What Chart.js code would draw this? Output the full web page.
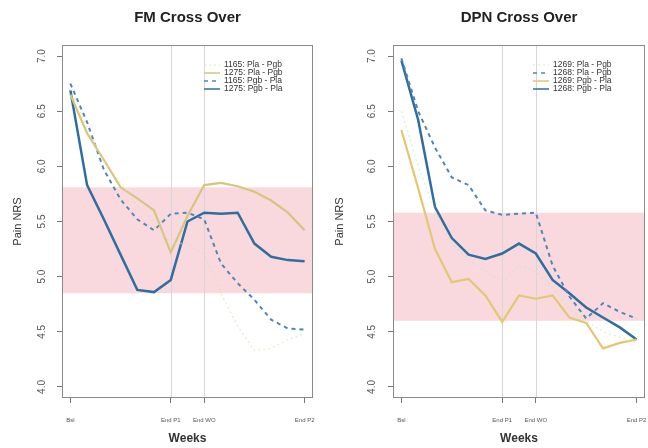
<!DOCTYPE html>
<html>
<head>
<meta charset="utf-8">
<script src="https://cdn.jsdelivr.net/npm/chart.js@4/dist/chart.umd.min.js"></script>
<style>
  html, body { margin: 0; padding: 0; background: #fff; }
  #wrap { position: relative; width: 648px; height: 448px; }
  .pane { position: absolute; top: 0; width: 324px; height: 448px; }
</style>
</head>
<body>
<div id="wrap">
  <div class="pane" style="left:0"><canvas id="fm" width="324" height="448"></canvas></div>
  <div class="pane" style="left:324px"><canvas id="dpn" width="324" height="448"></canvas></div>
</div>
<script>
// Study weeks (baseline, period 1, washout, period 2)
const weeks = [0, 1, 2, 3, 4, 5, 6, 7, 8, 9, 10, 11, 12, 13, 14];
const phaseWeeks = [0, 6, 8, 14];
const phaseLabels = ['Bsl', 'End P1', 'End WO', 'End P2'];
const yTicks = [4.0, 4.5, 5.0, 5.5, 6.0, 6.5, 7.0];

// FM cross-over: mean pain NRS by week
const fm1165PlaPgb = [6.70, 6.35, 6.05, 5.85, 5.65, 5.50, 5.30, 5.30, 5.20, 4.85, 4.55, 4.33, 4.35, 4.43, 4.48];
const fm1275PlaPgb = [6.65, 6.30, 6.06, 5.81, 5.71, 5.60, 5.22, 5.55, 5.83, 5.85, 5.82, 5.77, 5.69, 5.58, 5.42];
const fm1165PgbPla = [6.75, 6.40, 5.97, 5.70, 5.52, 5.42, 5.57, 5.58, 5.52, 5.12, 4.94, 4.79, 4.61, 4.53, 4.52];
const fm1275PgbPla = [6.69, 5.83, 5.52, 5.20, 4.88, 4.86, 4.97, 5.50, 5.58, 5.57, 5.58, 5.30, 5.18, 5.15, 5.14];
const fmBand = [4.85, 5.81];

// DPN cross-over: mean pain NRS by week
const dpn1269PlaPgb = [6.50, 6.00, 5.60, 5.30, 5.15, 5.05, 4.95, 5.10, 5.05, 4.90, 4.70, 4.60, 4.50, 4.45, 4.40];
const dpn1268PlaPgb = [6.98, 6.50, 6.17, 5.90, 5.83, 5.60, 5.56, 5.57, 5.58, 5.10, 4.82, 4.62, 4.76, 4.68, 4.62];
const dpn1269PgbPla = [6.33, 5.80, 5.25, 4.95, 4.98, 4.83, 4.59, 4.83, 4.80, 4.83, 4.63, 4.58, 4.35, 4.40, 4.43];
const dpn1268PgbPla = [6.96, 6.42, 5.63, 5.35, 5.20, 5.16, 5.21, 5.30, 5.21, 4.97, 4.85, 4.72, 4.63, 4.54, 4.43];
const dpnBand = [4.60, 5.58];

const pts = arr => arr.map((v, i) => ({ x: weeks[i], y: v }));

function series(label, values, color, width, dash) {
  return {
    label, data: pts(values), borderColor: color, borderWidth: width,
    borderDash: dash || [], pointRadius: 0, tension: 0, fill: false
  };
}

// Background band, phase lines, frame, labels and legend
const panelDecor = {
  id: 'panelDecor',
  beforeDatasetsDraw(chart, args, opts) {
    const { ctx, chartArea: a, scales: { x, y } } = chart;
    ctx.save();
    const yTop = y.getPixelForValue(opts.band[1]);
    const yBot = y.getPixelForValue(opts.band[0]);
    ctx.fillStyle = 'rgba(240,160,170,0.40)';
    ctx.fillRect(a.left, yTop, a.right - a.left, yBot - yTop);
    ctx.strokeStyle = '#d6d6d6';
    ctx.lineWidth = 1;
    [phaseWeeks[1], phaseWeeks[2]].forEach(w => {
      const px = Math.round(x.getPixelForValue(w)) + 0.5;
      ctx.beginPath(); ctx.moveTo(px, a.top); ctx.lineTo(px, a.bottom); ctx.stroke();
    });
    ctx.restore();
  },
  afterDraw(chart, args, opts) {
    const { ctx, chartArea: a, scales: { x, y } } = chart;
    ctx.save();
    // frame
    ctx.strokeStyle = '#8a8a8a';
    ctx.lineWidth = 1;
    ctx.strokeRect(a.left + 0.5, a.top + 0.5, a.right - a.left - 1, a.bottom - a.top - 1);

    // y tick labels, rotated
    ctx.fillStyle = '#555';
    ctx.font = '10px "Liberation Sans", Arial, sans-serif';
    ctx.textAlign = 'center';
    ctx.textBaseline = 'middle';
    yTicks.forEach(v => {
      ctx.save();
      ctx.translate(opts.yLabelX, y.getPixelForValue(v));
      ctx.rotate(-Math.PI / 2);
      ctx.fillText(v.toFixed(1), 0, 0);
      ctx.restore();
    });

    // x tick labels
    ctx.font = '6px "Liberation Sans", Arial, sans-serif';
    ctx.textBaseline = 'middle';
    phaseWeeks.forEach((w, i) => {
      ctx.fillText(phaseLabels[i], x.getPixelForValue(w), 420);
    });

    // axis titles
    const cx = (a.left + a.right) / 2;
    ctx.fillStyle = '#333';
    ctx.font = '600 12px "Liberation Sans", Arial, sans-serif';
    ctx.fillText('Weeks', cx, 439);
    ctx.save();
    ctx.translate(opts.yTitleX, (a.top + a.bottom) / 2);
    ctx.rotate(-Math.PI / 2);
    ctx.font = '11px "Liberation Sans", Arial, sans-serif';
    ctx.fillText('Pain NRS', 0, 0);
    ctx.restore();

    // panel title
    ctx.fillStyle = '#222';
    ctx.font = 'bold 15px "Liberation Sans", Arial, sans-serif';
    ctx.fillText(opts.title, cx, 18);

    // legend
    ctx.textAlign = 'left';
    ctx.font = '8.5px "Liberation Sans", Arial, sans-serif';
    chart.data.datasets.forEach((ds, i) => {
      const ly = a.top + 20 + i * 8;
      ctx.save();
      ctx.strokeStyle = ds.borderColor;
      ctx.lineWidth = 1.5;
      ctx.setLineDash(ds.borderDash);
      ctx.beginPath();
      ctx.moveTo(opts.legendX - 20, ly); ctx.lineTo(opts.legendX - 4, ly);
      ctx.stroke();
      ctx.restore();
      ctx.fillStyle = '#333';
      ctx.fillText(ds.label, opts.legendX, ly);
    });
    ctx.restore();
  }
};

function makePanel(id, datasets, decor, yWidth, rightPad) {
  return new Chart(document.getElementById(id), {
    type: 'line',
    data: { datasets },
    plugins: [panelDecor],
    options: {
      responsive: false,
      animation: false,
      devicePixelRatio: 1,
      layout: { padding: { left: 0, right: rightPad, top: 45, bottom: 0 } },
      plugins: { legend: { display: false }, tooltip: { enabled: false }, panelDecor: decor },
      scales: {
        x: {
          type: 'linear', min: -0.5, max: 14.5,
          afterBuildTicks: s => { s.ticks = phaseWeeks.map(v => ({ value: v })); },
          afterFit: s => { s.height = 50; },
          ticks: { display: false },
          grid: { drawOnChartArea: false, drawTicks: true, tickLength: 5, color: '#777' },
          border: { display: false }
        },
        y: {
          type: 'linear', min: 3.9, max: 7.1,
          afterBuildTicks: s => { s.ticks = yTicks.map(v => ({ value: v })); },
          afterFit: s => { s.width = yWidth; },
          ticks: { display: false },
          grid: { drawOnChartArea: false, drawTicks: true, tickLength: 5, color: '#777' },
          border: { display: false }
        }
      }
    }
  });
}

makePanel('fm', [
  series('1165: Pla - Pgb', fm1165PlaPgb, 'rgba(228,218,175,0.55)', 1.5, [2, 3]),
  series('1275: Pla - Pgb', fm1275PlaPgb, '#d6c67c', 2.2),
  series('1165: Pgb - Pla', fm1165PgbPla, '#4f86b6', 2, [4, 4]),
  series('1275: Pgb - Pla', fm1275PgbPla, '#2f6e9e', 2.5)
], { title: 'FM Cross Over', band: fmBand, yLabelX: 42, yTitleX: 18, legendX: 224 }, 62, 11);

makePanel('dpn', [
  series('1269: Pla - Pgb', dpn1269PlaPgb, 'rgba(200,228,190,0.55)', 1.5, [2, 3]),
  series('1268: Pla - Pgb', dpn1268PlaPgb, '#4f86b6', 2, [4, 4]),
  series('1269: Pgb - Pla', dpn1269PgbPla, '#e2c872', 2.2),
  series('1268: Pgb - Pla', dpn1268PgbPla, '#2f6e9e', 2.5)
], { title: 'DPN Cross Over', band: dpnBand, yLabelX: 48, yTitleX: 16, legendX: 229 }, 69, 3);
</script>
</body>
</html>
